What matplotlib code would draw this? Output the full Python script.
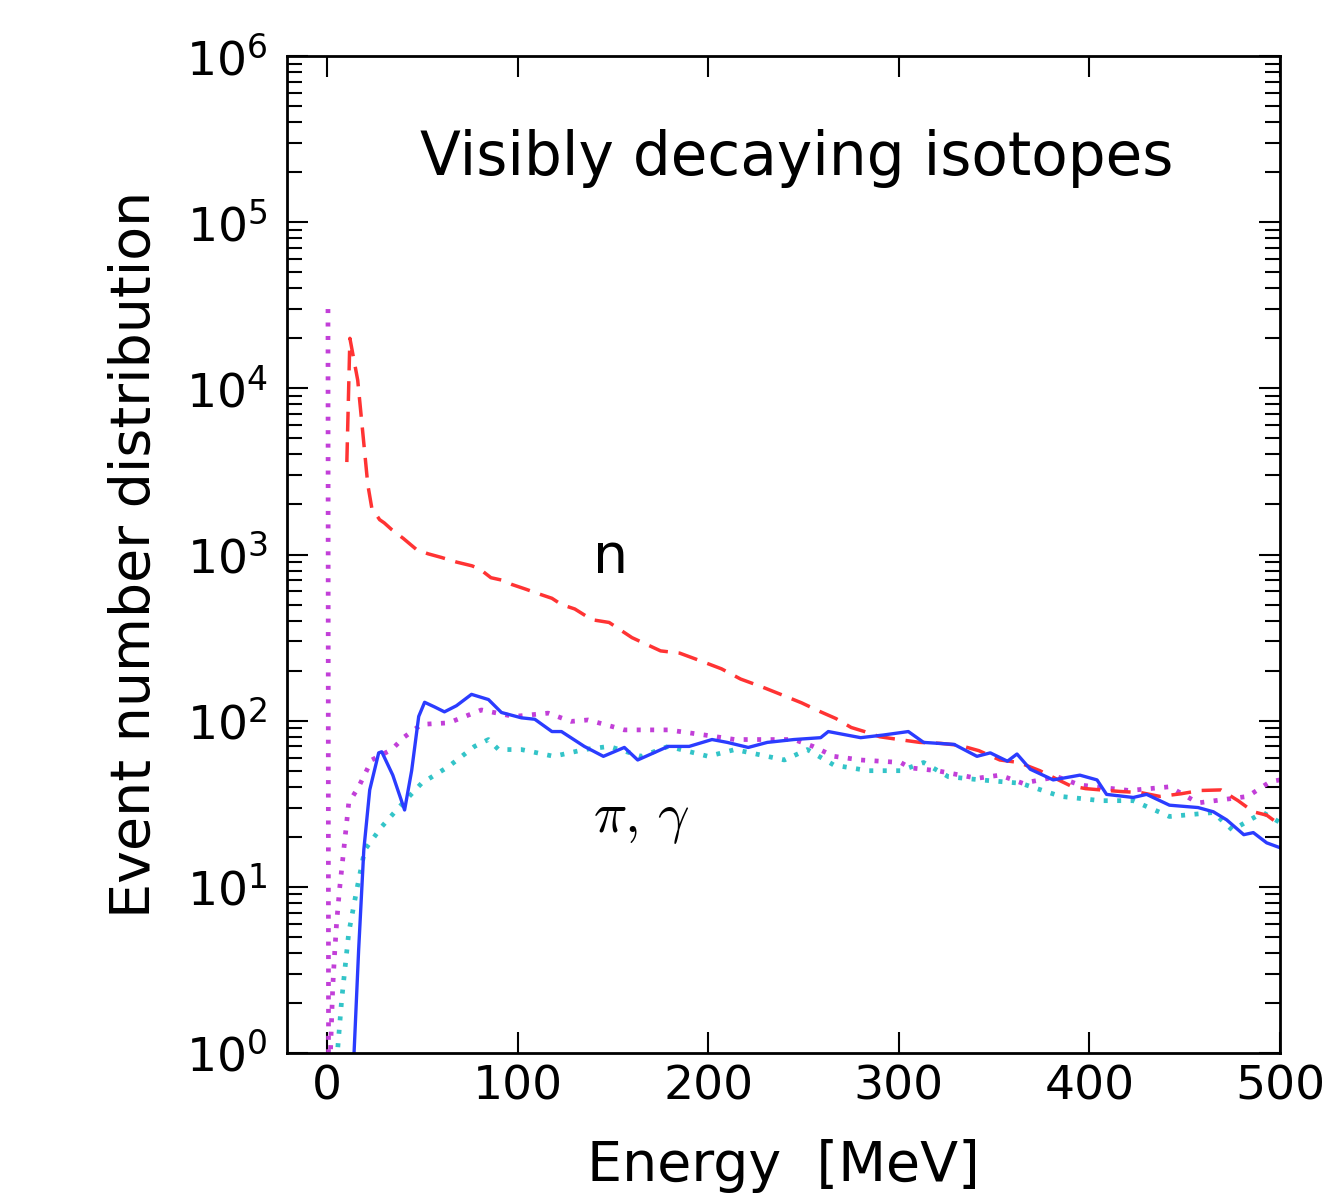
import matplotlib
matplotlib.use("Agg")
import matplotlib.pyplot as plt
import numpy as np

# -- Spectra of visibly decaying isotopes, read per species --
# neutrons (red dashed)
n_energy = [10.4, 12, 16.1, 21.4, 23.5, 27.6, 30, 34, 40, 47, 53, 60, 68, 76, 80, 86,
            92, 97, 104, 112, 118, 123, 130, 139, 148, 160, 175, 185, 196, 207, 217,
            228, 238, 249, 259, 267, 275, 282, 290, 300, 311, 322, 332, 342, 353,
            363, 374, 382, 390, 398, 406, 416, 427, 437, 448, 458, 469, 478, 486,
            493, 500]
n_counts = [3600, 20000, 11200, 2630, 1900, 1620, 1550, 1410, 1250, 1070, 1010, 960,
            900, 855, 820, 725, 700, 660, 620, 575, 545, 500, 470, 405, 390, 316, 263,
            255, 229, 205, 178, 160, 144, 128, 113, 103, 91, 86, 80, 77, 74, 73, 71,
            66, 58, 56, 50, 45, 40.6, 39, 38.3, 37.5, 36.9, 35, 36.3, 38, 38.3, 33,
            28.3, 27, 23.6]

# pi / gamma, solid blue
pi_energy = [14.0, 16.6, 19.3, 22.4, 27.1, 28.7, 34.5, 40.7, 44.4, 48.1, 51.2, 56.4,
             61.6, 67.9, 75.8, 84.7, 91.5, 102, 109, 118, 123, 135, 145, 156, 163,
             179, 190, 202, 210, 221, 231, 245, 259, 263, 280, 292, 305, 313, 329,
             341, 348, 357, 362, 369, 381, 395, 404, 409, 423, 430, 442, 457, 465,
             472, 481, 486, 493, 500]
pi_counts = [0.9, 4.2, 16.7, 38.3, 64, 65, 47, 29, 50, 106, 129, 121, 113, 123, 144,
             134, 112, 104, 102, 86, 86, 70, 61, 69, 58, 70, 70, 77, 74, 69, 74, 77,
             79, 86, 79, 82, 86, 74, 72, 61, 64, 57, 63, 51, 44, 47, 44, 36, 34.5,
             36, 31, 30, 28.3, 25.3, 20.6, 21.2, 18.4, 17.2]

# magenta dotted
mg_energy = [0.5, 0.8, 1.5, 3, 4, 5, 6.5, 11.4, 16.6, 23.5, 33.9, 40.7, 49.6, 63.8,
             81, 98, 116, 128, 137, 156, 179, 198, 214, 231, 245, 255, 266, 280,
             301, 306, 320, 341, 353, 365, 383, 395, 421, 442, 457, 483, 495, 500]
mg_counts = [30000, 0.5, 0.8, 2.5, 4, 6, 9.5, 32, 40, 58, 67, 80, 95, 97, 116, 106,
             111, 99, 101, 88, 88, 82, 77, 77, 77, 70, 61, 58, 56, 52, 50, 45, 47,
             42, 46, 41, 38, 40, 32, 35, 43, 44]

# cyan dotted
cy_energy = [5.1, 7.7, 11.4, 15.6, 19.8, 28.7, 37.6, 49.6, 63.8, 77.4, 84.7, 90, 102,
             119, 135, 148, 165, 179, 200, 214, 240, 252, 266, 284, 301, 313, 326,
             343, 364, 385, 406, 423, 442, 465, 475, 491, 500]
cy_counts = [0.9, 2.1, 5.3, 9.6, 16.7, 23, 30, 42, 53, 70, 77, 67, 67, 61, 67, 70,
             61, 70, 61, 67, 58, 67, 54, 50, 50, 56, 46, 44, 42, 35, 33, 33, 26.5,
             28, 22, 28, 24.4]

x_ticks = [0, 100, 200, 300, 400, 500]

fig = plt.figure(figsize=(13.28, 12.03), dpi=100)
ax = fig.add_axes([287 / 1328, 1 - 1053 / 1203, 993 / 1328, 997 / 1203])

dot = (0, (0.85, 2.0))
ax.plot(mg_energy, mg_counts, color="#c23fd8", lw=3.4, linestyle=dot)
ax.plot(cy_energy, cy_counts, color="#33c4c8", lw=3.4, linestyle=dot)
ax.plot(n_energy, n_counts, color="#ff3333", lw=2.5, linestyle=(0, (5.7, 3.1)))
ax.plot(pi_energy, pi_counts, color="#2b3cff", lw=2.4, solid_joinstyle="round")

ax.set_yscale("log")
ax.set_xlim(-21, 500)
ax.set_ylim(1, 1e6)
ax.set_xticks(x_ticks)
ax.set_xticklabels([str(t) for t in x_ticks])

ax.tick_params(which="both", direction="in", top=True, right=True, width=1.5)
ax.tick_params(which="major", length=15)
ax.tick_params(which="minor", length=11)
ax.tick_params(axis="x", labelsize=34, pad=8)
ax.tick_params(axis="y", labelsize=34, pad=14)
for sp in ax.spines.values():
    sp.set_linewidth(2)

ax.set_ylabel("Event number distribution", fontsize=40)
ax.yaxis.set_label_coords(-0.126, 0.5)
ax.set_xlabel("Energy  [MeV]", fontsize=40)
ax.xaxis.set_label_coords(0.5, -0.086)

ax.text(0.5136, 0.8806, "Visibly decaying isotopes", transform=ax.transAxes,
        fontsize=43, ha="center", va="baseline")
ax.text(149, 776, "n", fontsize=40, ha="center", va="baseline")
ax.text(165, 21.5, r"$\pi,\,\gamma$", fontsize=40, ha="center", va="baseline",
        math_fontfamily="cm")

fig.savefig("out.png", dpi=100)
